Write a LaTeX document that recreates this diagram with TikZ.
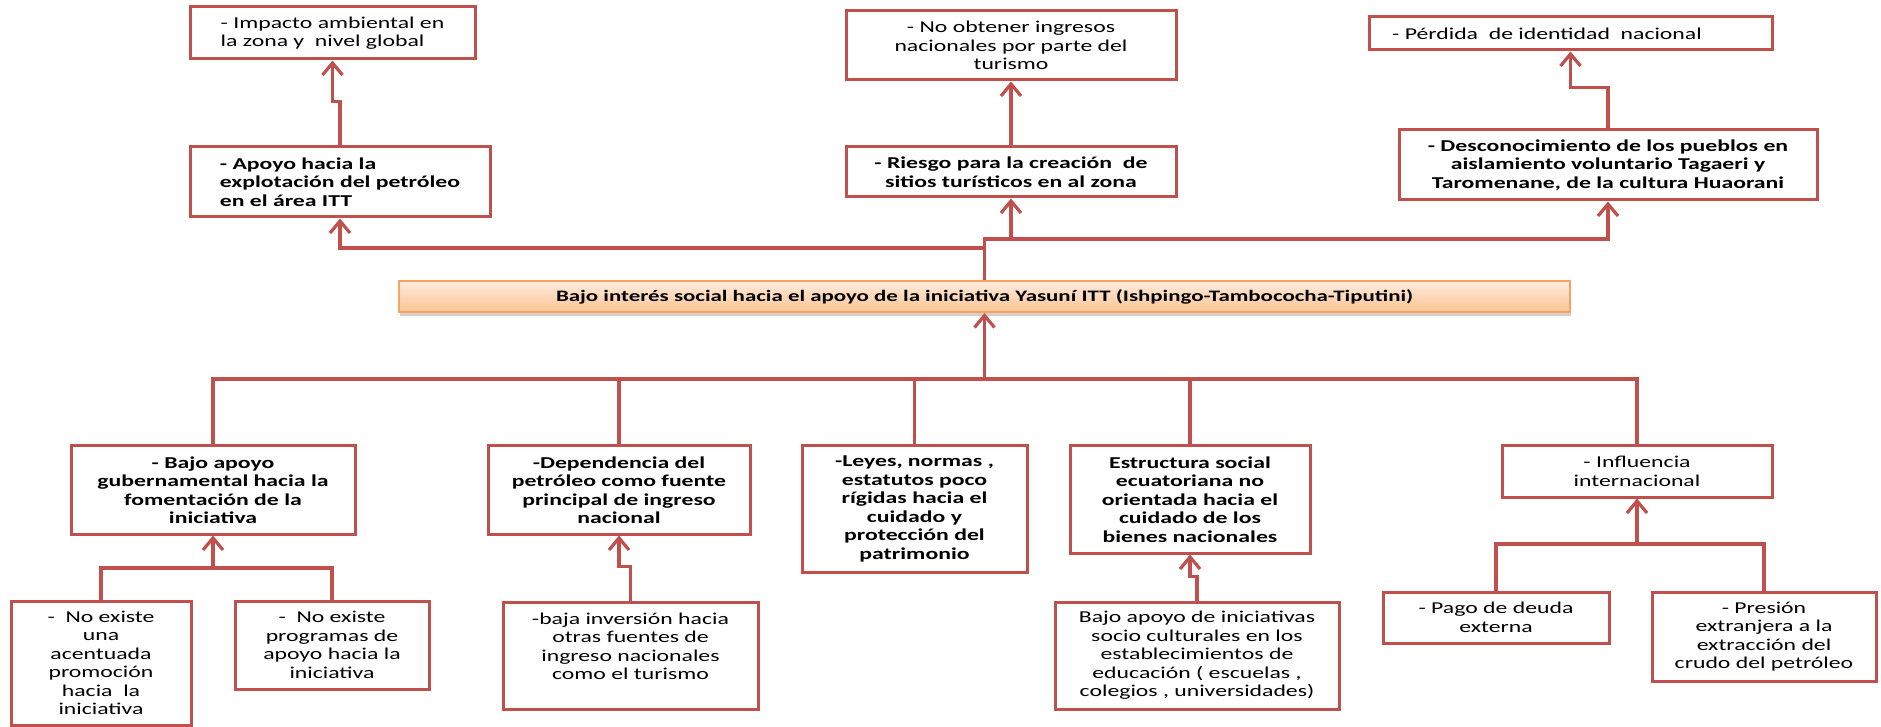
\documentclass[tikz,border=0pt]{standalone}
\usepackage{fontspec}
\setmainfont{Carlito}[FakeStretch=1.43]
\usetikzlibrary{arrows.meta,shadows}
\definecolor{boxred}{HTML}{C0504D}
\definecolor{mainborder}{HTML}{F9A35E}
\definecolor{maintop}{HTML}{FEEBDD}
\definecolor{mainbot}{HTML}{FBC493}
\tikzset{
  box/.style={draw=boxred, line width=1.5pt, fill=white, inner sep=0pt, align=center,
    font=\fontsize{8.3}{9.25}\selectfont},
  boldbox/.style={box, font=\fontsize{8.3}{9.25}\selectfont\bfseries},
  leftbox/.style={align=left},
  conn/.style={draw=boxred, line width=1.6pt},
  arr/.style={conn, -{Straight Barb[length=6pt,width=10pt]}},
  mainbox/.style={draw=mainborder, line width=1pt, inner sep=0pt, top color=maintop, bottom color=mainbot,
    drop shadow={shadow xshift=0.5pt, shadow yshift=-2pt, opacity=0.35},
    font=\fontsize{8}{9}\selectfont\bfseries}
}
\newcommand\mkbox[7]{%
  \node[#2, minimum width={(#5-#3)*0.5pt}, minimum height={(#6-#4)*0.5pt}]
    (#1) at ({(#3+#5)/2},{(#4+#6)/2}) {#7};}
\begin{document}
\begin{tikzpicture}[x=0.5pt,y=-0.5pt]
\fill[white] (0,0) rectangle (1881,727);
\useasboundingbox (0,0) rectangle (1881,727);

% top row
\mkbox{imp}{box,leftbox}{190}{7}{475}{59}{- Impacto ambiental en\\la zona y\ \ nivel global}
\mkbox{apo}{boldbox,leftbox}{190}{147}{490}{217}{- Apoyo hacia la\\explotación del petróleo\\en el área ITT}
\mkbox{noo}{box}{846}{11}{1176}{80}{- No obtener ingresos\\nacionales por parte del\\turismo}
\mkbox{rie}{boldbox}{846}{147}{1176}{197}{- Riesgo para la creación\ \ de\\sitios turísticos en al zona}
\mkbox{per}{box}{1369}{17}{1772}{50}{- Pérdida\ \ de identidad\ \ nacional\hspace*{23.5pt}}
\mkbox{des}{boldbox}{1399}{130}{1817}{200}{- Desconocimiento de los pueblos en\\aislamiento voluntario Tagaeri y\\Taromenane, de la cultura Huaorani}

% main problem
\mkbox{main}{mainbox}{399}{281}{1570}{312}{Bajo interés social hacia el apoyo de la iniciativa Yasuní ITT (Ishpingo-Tambococha-Tiputini)}

% causes
\mkbox{baj}{boldbox}{71}{446}{355}{534}{- Bajo apoyo\\gubernamental hacia la\\fomentación de la\\iniciativa}
\mkbox{dep}{boldbox}{488}{446}{750}{534}{-Dependencia del\\petróleo como fuente\\principal de ingreso\\nacional}
\mkbox{ley}{boldbox}{802}{446}{1027}{572}{-Leyes, normas ,\\estatutos poco\\rígidas hacia el\\cuidado y\\protección del\\patrimonio}
\mkbox{est}{boldbox}{1070}{446}{1310}{553}{Estructura social\\ecuatoriana no\\orientada hacia el\\cuidado de los\\bienes nacionales}
\mkbox{inf}{box}{1502}{446}{1772}{497}{- Influencia\\internacional}

% sub-causes
\mkbox{ne1}{box}{11}{601}{191}{725}{-\ \ No existe\\una\\acentuada\\promoción\\hacia\ \ la\\iniciativa}
\mkbox{ne2}{box}{235}{601}{429}{689}{-\ \ No existe\\programas de\\apoyo hacia la\\iniciativa}
\mkbox{bin}{box}{503}{602}{758}{709}{-baja inversión hacia\\otras fuentes de\\ingreso nacionales\\como el turismo\\\mbox{}}
\mkbox{bai}{box}{1055}{602}{1339}{709}{Bajo apoyo de iniciativas\\socio culturales en los\\establecimientos de\\educación ( escuelas ,\\colegios , universidades)}
\mkbox{pag}{box}{1383}{592}{1609}{643}{- Pago de deuda\\externa}
\mkbox{pre}{box}{1652}{592}{1876}{681}{- Presión\\extranjera a la\\extracción del\\crudo del petróleo}

% upper connectors (effects)
\draw[arr] (main.north) -- ++(0,-32) -| (apo.south);
\draw[arr] (main.north) -- ++(0,-41) -| (des.south);
\draw[arr] (main.north) -- ++(0,-41) -| (rie.south);
\draw[arr] (apo.north) -- ++(0,-44) -| (imp.south);
\draw[arr] (rie.north) -- (noo.south);
\draw[arr] (des.north) -- ++(0,-41) -| (per.south);

% lower connectors (causes)
\coordinate (hub) at (984.5,379);
\draw[conn] (baj.north) |- (hub);
\draw[conn] (dep.north) |- (hub);
\draw[conn] (ley.north) |- (hub);
\draw[conn] (est.north) |- (hub);
\draw[conn] (inf.north) |- (hub);
\draw[arr] (hub) -- (main.south);

\coordinate (bj) at (213,568);
\draw[conn] (ne1.north) |- (bj);
\draw[conn] (ne2.north) |- (bj);
\draw[arr] (bj) -- (baj.south);

\draw[arr] (bin.north) -- ++(0,-34) -| (dep.south);
\draw[arr] (bai.north) -- ++(0,-24) -| (est.south);

\coordinate (ij) at (1637,544);
\draw[conn] (pag.north) |- (ij);
\draw[conn] (pre.north) |- (ij);
\draw[arr] (ij) -- (inf.south);
\end{tikzpicture}
\end{document}
